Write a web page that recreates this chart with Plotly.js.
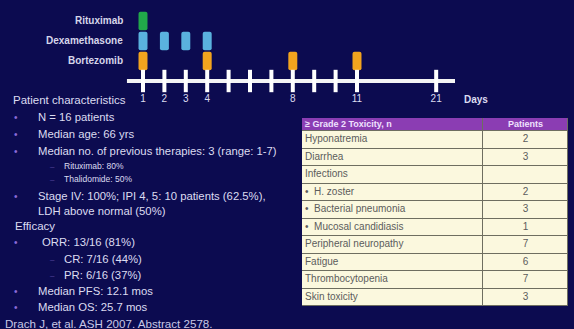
<!DOCTYPE html>
<html>
<head>
<meta charset="utf-8">
<script src="https://cdn.plot.ly/plotly-3.0.1.min.js"></script>
<style>html,body{margin:0;padding:0;background:#0c0b50;}#chart{width:574px;height:329px;}</style>
</head>
<body>
<div id="chart"></div>
<script>
// ---- data ----
const days = [1, 2, 3, 4, 5, 6, 7, 8, 9, 10, 11, 21];
const dayLabels = ['1', '2', '3', '4', '', '', '', '8', '', '', '11', '21'];
const drugs = ['Rituximab', 'Dexamethasone', 'Bortezomib'];
const rituximabDays = [1];
const dexamethasoneDays = [1, 2, 3, 4];
const bortezomibDays = [1, 4, 8, 11];

const toxicities = ['Hyponatremia', 'Diarrhea', 'Infections', '\u2022  H. zoster', '\u2022  Bacterial pneumonia',
  '\u2022  Mucosal candidiasis', 'Peripheral neuropathy', 'Fatigue', 'Thrombocytopenia', 'Skin toxicity'];
const patients = ['2', '3', '', '2', '3', '1', '7', '6', '7', '3'];
const tableHeader = ['\u2265 Grade 2 Toxicity, n', 'Patients'];

const characteristics = ['N = 16 patients', 'Median age: 66 yrs', 'Median no. of previous therapies: 3 (range: 1-7)'];
const priorTherapies = ['Rituximab: 80%', 'Thalidomide: 50%'];
const stageLines = ['Stage IV: 100%; IPI 4, 5: 10 patients (62.5%),', 'LDH above normal (50%)'];
const efficacyMain = ['ORR: 13/16 (81%)'];
const efficacySub = ['CR: 7/16 (44%)', 'PR: 6/16 (37%)'];
const efficacyMore = ['Median PFS: 12.1 mos', 'Median OS: 25.7 mos'];
const citation = 'Drach J, et al. ASH 2007. Abstract 2578.';

// ---- helpers ----
const W = 574, H = 329;
const slot = d => d <= 11 ? d : 11 + (d - 11) * 0.37;   // broken axis after day 11
const PX_PER = 21.4, X0 = 143;
const Y0 = 81, ROW = 20;
const px = p => p / W, py = p => 1 - p / H;
const rowOf = name => 3 - drugs.indexOf(name);

const FONT = 'Liberation Sans, Arial, sans-serif';
const TXT = '#dcdcf0';
const BUL = '#8c6ad8';

function drugBars(name, ds, color) {
  const r = rowOf(name);
  return {
    type: 'bar', x: ds.map(slot), y: ds.map(() => 0.92), base: ds.map(() => r - 0.46),
    width: 0.42, marker: {color: color, cornerradius: 2, line: {width: 0}},
    hoverinfo: 'skip', showlegend: false, xaxis: 'x', yaxis: 'y'
  };
}

// table geometry (table-local pixel units)
const COLW = [181, 85], HDR_H = 13, ROW_H = 17.5;
const colEdges = [0, COLW[0], COLW[0] + COLW[1]];
const rowEdges = [0, HDR_H];
toxicities.forEach((_, i) => rowEdges.push(HDR_H + ROW_H * (i + 1)));
const TBL_H = rowEdges[rowEdges.length - 1];
const TBL_TOP = 118, TBL_LEFT = 302;
const zCells = [[1, 1]].concat(toxicities.map(() => [0, 0]));
const rowCenters = rowEdges.slice(0, -1).map((e, i) => (e + rowEdges[i + 1]) / 2);

const traces = [
  drugBars('Rituximab', rituximabDays, '#21a84a'),
  drugBars('Dexamethasone', dexamethasoneDays, '#5ab2de'),
  drugBars('Bortezomib', bortezomibDays, '#f2a41e'),
  {type: 'scatter', mode: 'lines', x: [slot(1) - 0.75, slot(21) + 0.88], y: [0, 0],
   line: {color: '#f4f4f4', width: 4}, hoverinfo: 'skip', showlegend: false},
  {type: 'scatter', mode: 'markers', x: days.map(slot), y: days.map(() => 0),
   marker: {symbol: 'line-ns', size: 16, line: {color: '#ffffff', width: 4}},
   hoverinfo: 'skip', showlegend: false},
  {type: 'scatter', mode: 'text', x: days.map(slot), y: days.map(() => -0.92), text: dayLabels,
   textfont: {family: FONT, size: 10, color: TXT}, hoverinfo: 'skip', showlegend: false},
  // table cells
  {type: 'heatmap', xaxis: 'x2', yaxis: 'y2', x: colEdges, y: rowEdges, z: zCells,
   zmin: 0, zmax: 1, colorscale: [[0, '#fbf8de'], [1, '#8b3db3']], showscale: false,
   xgap: 1, ygap: 1, hoverinfo: 'skip'},
  // table text: left column
  {type: 'scatter', mode: 'text', xaxis: 'x2', yaxis: 'y2', cliponaxis: false,
   x: rowCenters.map(() => 3), y: rowCenters,
   text: ['<b>' + tableHeader[0] + '</b>'].concat(toxicities), textposition: 'middle right',
   textfont: {family: FONT, size: rowCenters.map((_, i) => i === 0 ? 9 : 10),
     color: rowCenters.map((_, i) => i === 0 ? '#f0e2ff' : '#5c5c5c')},
   hoverinfo: 'skip', showlegend: false},
  // table text: right column
  {type: 'scatter', mode: 'text', xaxis: 'x2', yaxis: 'y2', cliponaxis: false,
   x: rowCenters.map(() => COLW[0] + COLW[1] / 2), y: rowCenters,
   text: ['<b>' + tableHeader[1] + '</b>'].concat(patients), textposition: 'middle center',
   textfont: {family: FONT, size: rowCenters.map((_, i) => i === 0 ? 9 : 10),
     color: rowCenters.map((_, i) => i === 0 ? '#f0e2ff' : '#5c5c5c')},
   hoverinfo: 'skip', showlegend: false}
];

const ann = [];
function t(text, x, y, size, opts) {
  ann.push(Object.assign({text: text, x: px(x), y: py(y), xref: 'paper', yref: 'paper',
    xanchor: 'left', yanchor: 'middle', showarrow: false,
    font: {family: FONT, size: size, color: TXT}}, opts || {}));
}
// drug labels
drugs.forEach(d => {
  t('<b>' + d + '</b>', 125, Y0 - ROW * rowOf(d) - 1, 10, {xanchor: 'right', font: {family: FONT, size: 10, color: '#d6d6ea'}});
});
t('<b>Days</b>', 462, 99, 10);

// left text block
const MS = 11.3;
t('Patient characteristics', 11, 100, 11.5);
const bullet = (y) => t('\u2022', 12, y, 10, {font: {family: FONT, size: 10, color: BUL}});
const dash = (y) => t('\u2013', 48, y, 8, {font: {family: FONT, size: 8, color: '#5a4aa0'}});
[117, 134, 151].forEach((y, i) => { bullet(y); t(characteristics[i], 36, y, MS); });
[166, 179].forEach((y, i) => { dash(y); t(priorTherapies[i], 62, y, 8.5); });
bullet(196); t(stageLines[0], 36, 196, MS);
t(stageLines[1], 36, 211, MS);
t('Efficacy', 13, 226, 11.5);
bullet(242); t(efficacyMain[0], 40, 242, MS);
[259, 275].forEach((y, i) => { dash(y); t(efficacySub[i], 62, y, MS); });
[291, 307].forEach((y, i) => { bullet(y); t(efficacyMore[i], 36, y, MS); });
t(citation, 3, 323, 11.6, {font: {family: FONT, size: 11.6, color: '#c8c8e6'}});

const layout = {
  width: W, height: H, margin: {l: 0, r: 0, t: 0, b: 0, pad: 0},
  paper_bgcolor: '#0c0b50', plot_bgcolor: 'rgba(0,0,0,0)',
  barmode: 'overlay', showlegend: false,
  xaxis: {domain: [0, 1], range: [1 - X0 / PX_PER, 1 + (W - X0) / PX_PER], visible: false, fixedrange: true},
  yaxis: {domain: [0, 1], range: [(Y0 - H) / ROW, Y0 / ROW], visible: false, fixedrange: true},
  xaxis2: {domain: [px(TBL_LEFT), px(TBL_LEFT + colEdges[2])], range: [0, colEdges[2]], visible: false, fixedrange: true, anchor: 'y2'},
  yaxis2: {domain: [py(TBL_TOP + TBL_H), py(TBL_TOP)], range: [TBL_H, 0], visible: false, fixedrange: true, anchor: 'x2'},
  annotations: ann,
  shapes: [
    {type: 'rect', xref: 'x2', yref: 'y2', x0: -1.5, x1: colEdges[2] + 1.5, y0: -1.5, y1: TBL_H + 1.5,
     line: {width: 0}, fillcolor: '#e4e4dc', layer: 'below'},
    {type: 'rect', xref: 'x2', yref: 'y2', x0: -0.5, x1: colEdges[2] + 0.5, y0: -0.5, y1: TBL_H + 0.5,
     line: {width: 0}, fillcolor: '#6e6e60', layer: 'below'}
  ]
};
Plotly.newPlot('chart', traces, layout, {displayModeBar: false, staticPlot: true});
</script>
</body>
</html>
